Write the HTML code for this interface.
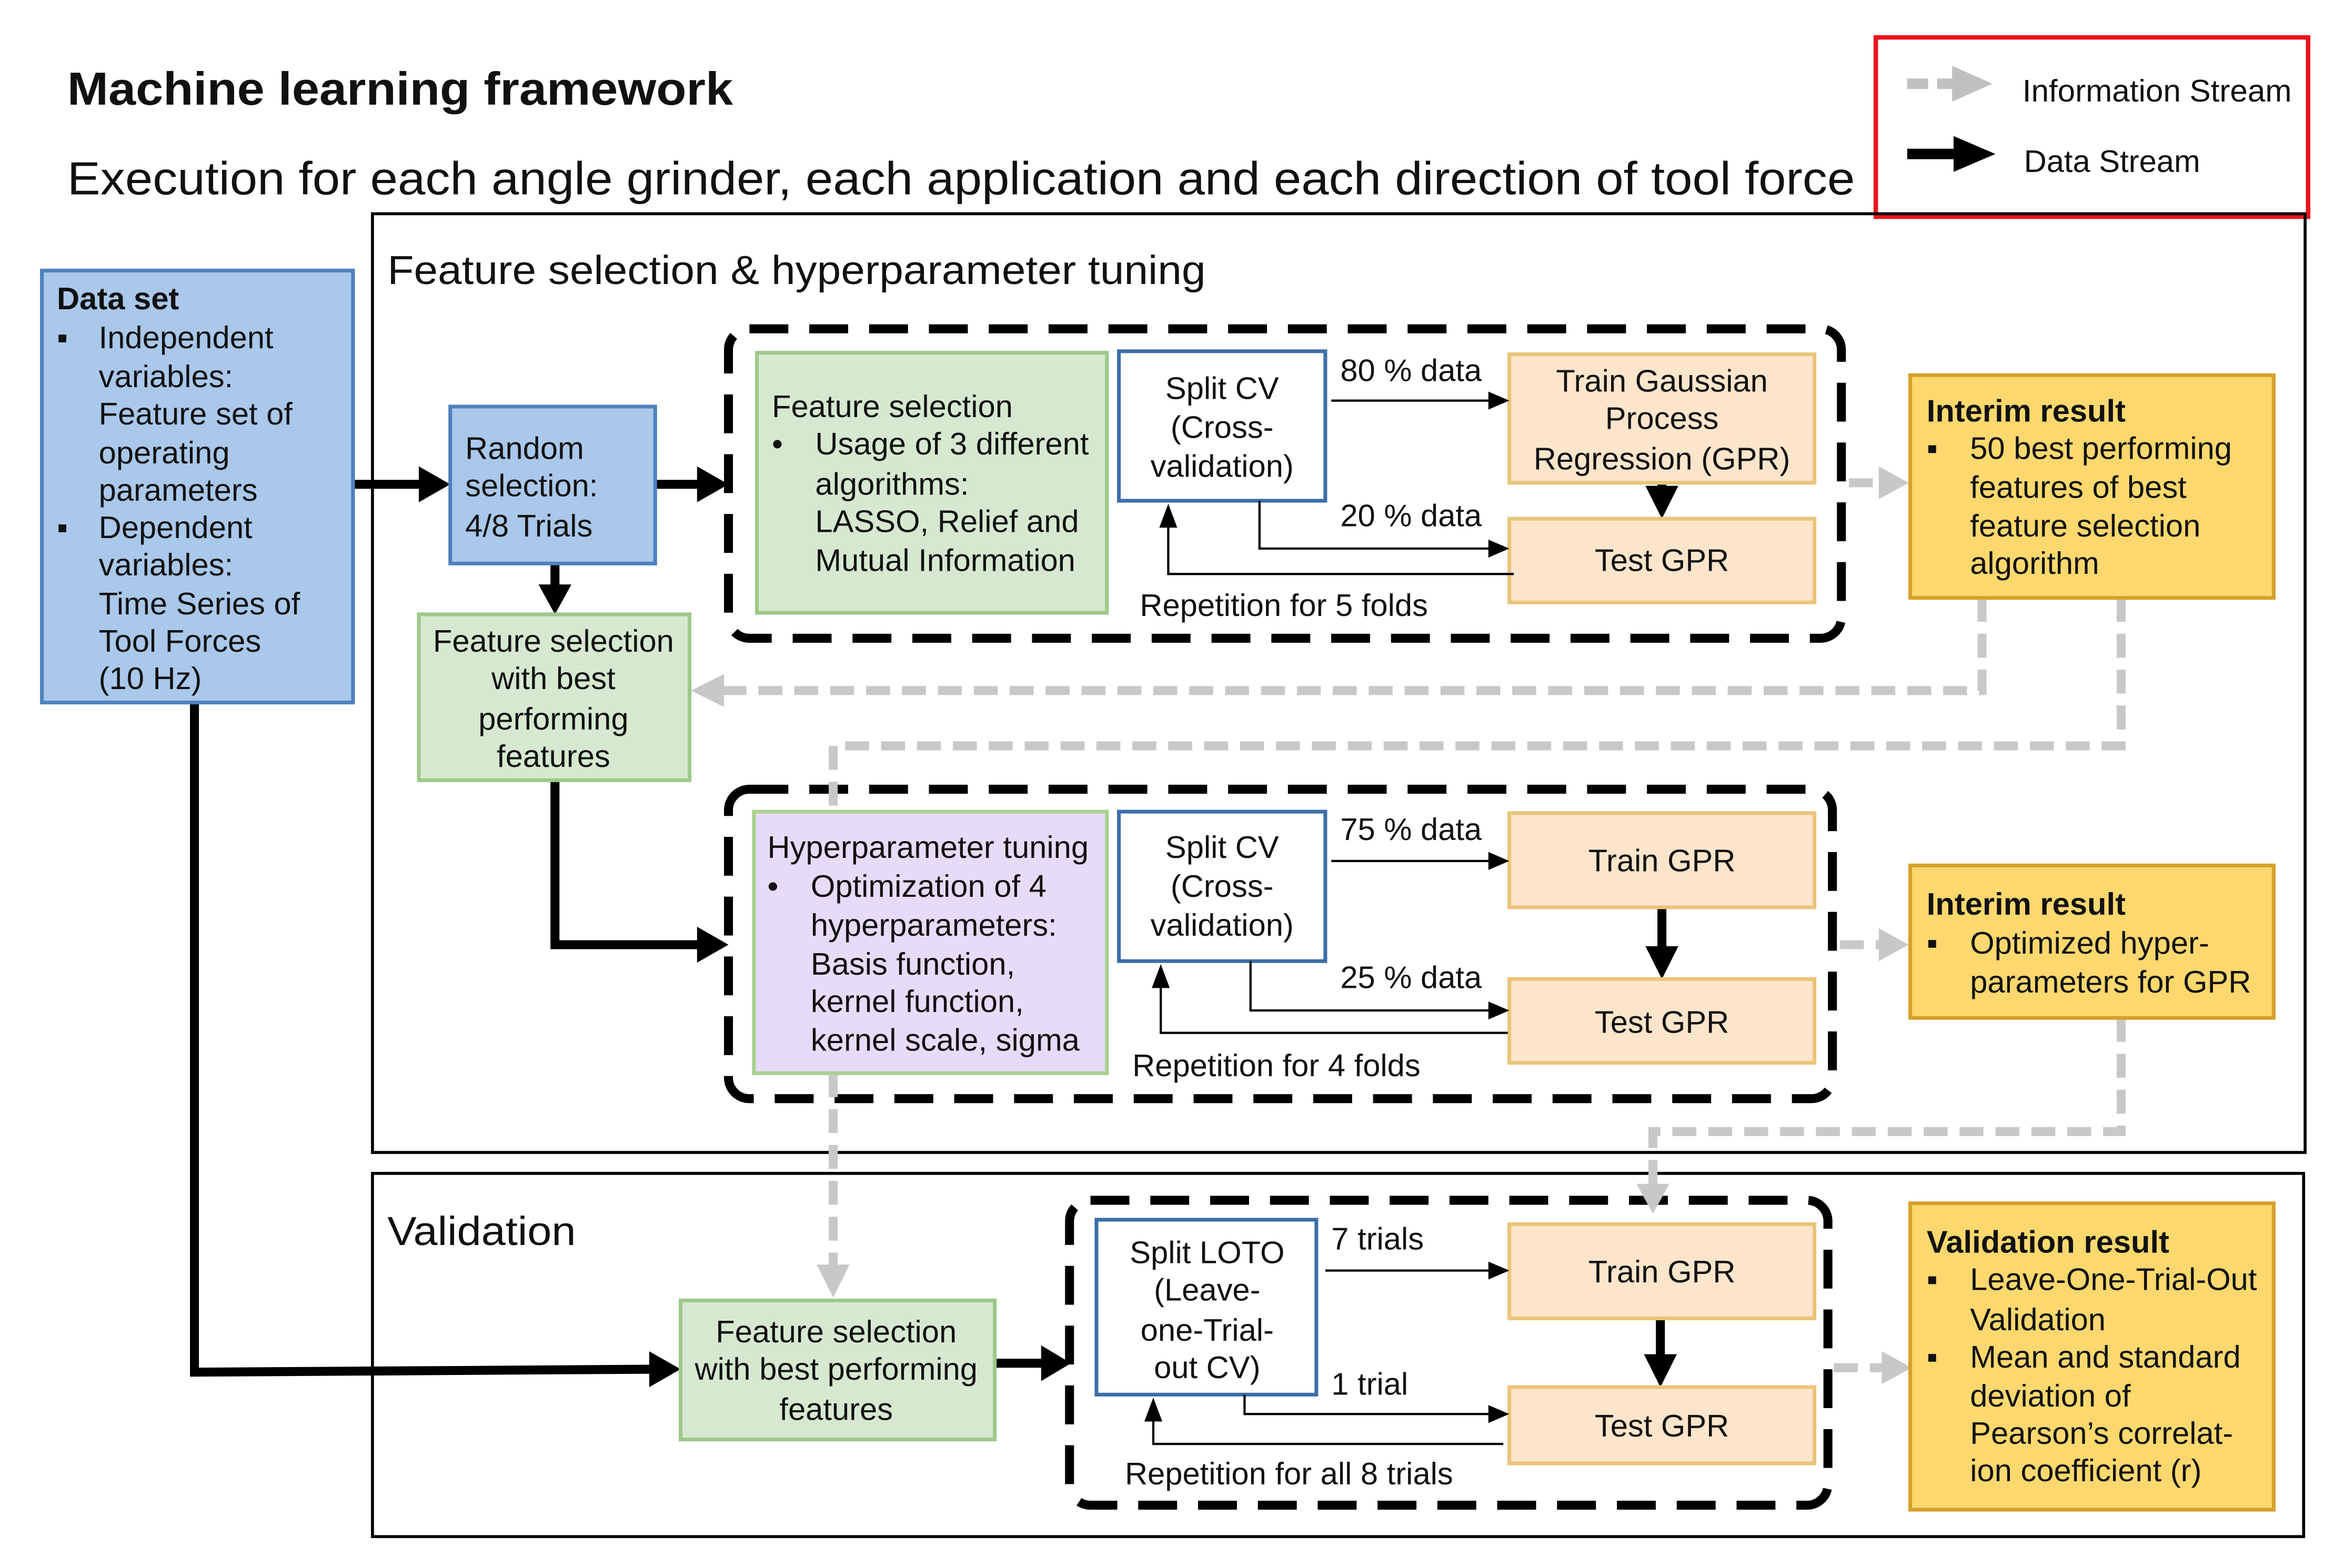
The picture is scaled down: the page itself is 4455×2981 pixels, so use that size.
<!DOCTYPE html>
<html><head><meta charset="utf-8"><style>
html,body{margin:0;padding:0;background:#fff}
svg{display:block}
text{font-family:"Liberation Sans",Arial,sans-serif;fill:#111;font-size:21px}
.b{font-weight:bold}
</style></head><body>
<svg width="4455" height="2981" viewBox="0 0 1567 1049" preserveAspectRatio="none" xmlns="http://www.w3.org/2000/svg">

<text x="45" y="70" class="b" style="font-size:31px" textLength="445" lengthAdjust="spacingAndGlyphs">Machine learning framework</text>
<text x="45" y="130" style="font-size:31px" textLength="1195" lengthAdjust="spacingAndGlyphs">Execution for each angle grinder, each application and each direction of tool force</text>

<!-- legend -->
<rect x="1254" y="25" width="289" height="120" fill="none" stroke="#e8141c" stroke-width="3"/>
<line x1="1275" y1="56" x2="1305" y2="56" stroke="#c0c0c0" stroke-width="7" stroke-dasharray="14,6"/>
<path d="M1305,44 L1332,56 L1305,68 Z" fill="#c0c0c0"/>
<line x1="1275" y1="103" x2="1310" y2="103" stroke="#000" stroke-width="7"/>
<path d="M1306,91 L1334,103 L1306,115 Z" fill="#000"/>
<text x="1352" y="68" textLength="180" lengthAdjust="spacingAndGlyphs">Information Stream</text>
<text x="1353" y="115">Data Stream</text>

<!-- outer boxes -->
<rect x="249" y="143" width="1292" height="628" fill="none" stroke="#000" stroke-width="2"/>
<text x="259" y="190" style="font-size:27px" textLength="547" lengthAdjust="spacingAndGlyphs">Feature selection &amp; hyperparameter tuning</text>
<rect x="249" y="785" width="1291" height="243" fill="none" stroke="#000" stroke-width="2"/>
<text x="259" y="833" style="font-size:27px" textLength="126" lengthAdjust="spacingAndGlyphs">Validation</text>

<!-- dashed boxes -->
<rect x="487" y="220" width="744" height="207" rx="14" fill="none" stroke="#000" stroke-width="6" stroke-dasharray="26,14"/>
<rect x="487" y="528" width="738" height="207" rx="14" fill="none" stroke="#000" stroke-width="6" stroke-dasharray="26,14"/>
<rect x="715" y="803" width="507" height="204" rx="14" fill="none" stroke="#000" stroke-width="6" stroke-dasharray="26,14"/>

<!-- gray info streams -->
<g stroke="#c8c8c8" stroke-width="6" fill="none" stroke-dasharray="16,8">
<polyline points="1325,400 1325,462 478,462"/>
<polyline points="1418,400 1418,499 557,499 557,545"/>
<line x1="557" y1="718" x2="557" y2="850"/>
<polyline points="1418,681 1418,757 1105,757 1105,795"/>
<line x1="1236" y1="323" x2="1258" y2="323"/>
<line x1="1230" y1="632" x2="1258" y2="632"/>
<line x1="1226" y1="915" x2="1260" y2="915"/>
</g>
<g fill="#c8c8c8">
<path d="M462,462 L484,451 L484,473 Z"/>
<path d="M557,868 L546,846 L568,846 Z"/>
<path d="M1105,812 L1094,792 L1116,792 Z"/>
<path d="M1276,323 L1256,312 L1256,334 Z"/>
<path d="M1276,632 L1256,621 L1256,643 Z"/>
<path d="M1278,915 L1258,904 L1258,926 Z"/>
</g>

<!-- thick black data arrows -->
<g stroke="#000" stroke-width="6" fill="none">
<line x1="236" y1="324" x2="284" y2="324"/>
<line x1="438" y1="324" x2="470" y2="324"/>
<line x1="371" y1="377" x2="371" y2="395"/>
<polyline points="371,522 371,632 470,632"/>
<polyline points="130,470 130,918 438,916"/>
<line x1="665" y1="912" x2="700" y2="912"/>
<line x1="1111" y1="323" x2="1111" y2="330"/>
<line x1="1111" y1="607" x2="1111" y2="635"/>
<line x1="1110" y1="882" x2="1110" y2="908"/>
</g>
<g fill="#000">
<path d="M301,324 L280,312 L280,336 Z"/>
<path d="M487,324 L466,312 L466,336 Z"/>
<path d="M371,411 L360,391 L382,391 Z"/>
<path d="M487,632 L466,620 L466,644 Z"/>
<path d="M455,916 L434,904 L434,928 Z"/>
<path d="M716,912 L696,900 L696,924 Z"/>
<path d="M1111,347 L1100,325 L1122,325 Z"/>
<path d="M1111,655 L1100,633 L1122,633 Z"/>
<path d="M1110,928 L1099,906 L1121,906 Z"/>
</g>

<!-- Data set -->
<rect x="28" y="181" width="208" height="289" fill="#a9c8ea" stroke="#4f81bd" stroke-width="2.5"/>
<text x="38" y="207" class="b">Data set</text>
<text x="38" y="233">▪</text><text x="66" y="233">Independent</text>
<text x="66" y="259">variables:</text>
<text x="66" y="284">Feature set of</text>
<text x="66" y="310">operating</text>
<text x="66" y="335">parameters</text>
<text x="38" y="360">▪</text><text x="66" y="360">Dependent</text>
<text x="66" y="385">variables:</text>
<text x="66" y="411">Time Series of</text>
<text x="66" y="436">Tool Forces</text>
<text x="66" y="461">(10 Hz)</text>

<!-- Random selection -->
<rect x="301" y="272" width="137" height="105" fill="#a9c8ea" stroke="#4f81bd" stroke-width="2.5"/>
<text x="311" y="307">Random</text>
<text x="311" y="332">selection:</text>
<text x="311" y="359">4/8 Trials</text>

<!-- Feature selection best -->
<rect x="280" y="411" width="181" height="111" fill="#d6e9d0" stroke="#9dc98a" stroke-width="2.5"/>
<g text-anchor="middle">
<text x="370" y="436">Feature selection</text>
<text x="370" y="461">with best</text>
<text x="370" y="488">performing</text>
<text x="370" y="513">features</text>
</g>

<!-- Section 1 contents -->
<rect x="506" y="236" width="234" height="174" fill="#d6e9d0" stroke="#9dc98a" stroke-width="2.5"/>
<text x="516" y="279">Feature selection</text>
<text x="516" y="304">•</text><text x="545" y="304">Usage of 3 different</text>
<text x="545" y="331">algorithms:</text>
<text x="545" y="356">LASSO, Relief and</text>
<text x="545" y="382">Mutual Information</text>

<rect x="748" y="235" width="138" height="100" fill="#fff" stroke="#3d6ea8" stroke-width="2.5"/>
<g text-anchor="middle">
<text x="817" y="267">Split CV</text>
<text x="817" y="293">(Cross-</text>
<text x="817" y="319">validation)</text>
</g>
<rect x="1009" y="237" width="204" height="86" fill="#fde5cb" stroke="#eac47a" stroke-width="2.5"/>
<g text-anchor="middle">
<text x="1111" y="262">Train Gaussian</text>
<text x="1111" y="287">Process</text>
<text x="1111" y="314">Regression (GPR)</text>
</g>
<rect x="1009" y="347" width="204" height="56" fill="#fde5cb" stroke="#eac47a" stroke-width="2.5"/>
<text x="1111" y="382" text-anchor="middle">Test GPR</text>

<g stroke="#000" stroke-width="1.5" fill="none">
<line x1="890" y1="268" x2="998" y2="268"/>
<polyline points="842,335 842,367 998,367"/>
<polyline points="1012,384 781,384 781,350"/>
</g>
<g fill="#000">
<path d="M1009,268 L995,262 L995,274 Z"/>
<path d="M1009,367 L995,361 L995,373 Z"/>
<path d="M781,337 L775,353 L787,353 Z"/>
</g>
<text x="896" y="255">80 % data</text>
<text x="896" y="352">20 % data</text>
<text x="762" y="412">Repetition for 5 folds</text>

<rect x="1277" y="251" width="243" height="149" fill="#fcd86e" stroke="#d6a12a" stroke-width="2.5"/>
<text x="1288" y="282" class="b">Interim result</text>
<text x="1288" y="307">▪</text><text x="1317" y="307">50 best performing</text>
<text x="1317" y="333">features of best</text>
<text x="1317" y="359">feature selection</text>
<text x="1317" y="384">algorithm</text>

<!-- Section 2 contents -->
<rect x="504" y="543" width="236" height="175" fill="#e6dcfa" stroke="#a9d18e" stroke-width="2.5"/>
<text x="513" y="574">Hyperparameter tuning</text>
<text x="513" y="600">•</text><text x="542" y="600">Optimization of 4</text>
<text x="542" y="626">hyperparameters:</text>
<text x="542" y="652">Basis function,</text>
<text x="542" y="677">kernel function,</text>
<text x="542" y="703">kernel scale, sigma</text>

<rect x="748" y="543" width="138" height="100" fill="#fff" stroke="#3d6ea8" stroke-width="2.5"/>
<g text-anchor="middle">
<text x="817" y="574">Split CV</text>
<text x="817" y="600">(Cross-</text>
<text x="817" y="626">validation)</text>
</g>
<rect x="1009" y="544" width="204" height="63" fill="#fde5cb" stroke="#eac47a" stroke-width="2.5"/>
<text x="1111" y="583" text-anchor="middle">Train GPR</text>
<rect x="1009" y="655" width="204" height="56" fill="#fde5cb" stroke="#eac47a" stroke-width="2.5"/>
<text x="1111" y="691" text-anchor="middle">Test GPR</text>
<g stroke="#000" stroke-width="1.5" fill="none">
<line x1="890" y1="576" x2="998" y2="576"/>
<polyline points="836,643 836,676 998,676"/>
<polyline points="1008,691 776,691 776,658"/>
</g>
<g fill="#000">
<path d="M1009,576 L995,570 L995,582 Z"/>
<path d="M1009,676 L995,670 L995,682 Z"/>
<path d="M776,645 L770,661 L782,661 Z"/>
</g>
<text x="896" y="562">75 % data</text>
<text x="896" y="661">25 % data</text>
<text x="757" y="720">Repetition for 4 folds</text>

<rect x="1277" y="579" width="243" height="102" fill="#fcd86e" stroke="#d6a12a" stroke-width="2.5"/>
<text x="1288" y="612" class="b">Interim result</text>
<text x="1288" y="638">▪</text><text x="1317" y="638">Optimized  hyper-</text>
<text x="1317" y="664">parameters for GPR</text>

<!-- Validation contents -->
<rect x="455" y="870" width="210" height="93" fill="#d6e9d0" stroke="#9dc98a" stroke-width="2.5"/>
<g text-anchor="middle">
<text x="559" y="898">Feature selection</text>
<text x="559" y="923">with best performing</text>
<text x="559" y="950">features</text>
</g>
<rect x="733" y="816" width="147" height="117" fill="#fff" stroke="#3d6ea8" stroke-width="2.5"/>
<g text-anchor="middle">
<text x="807" y="845">Split LOTO</text>
<text x="807" y="870">(Leave-</text>
<text x="807" y="897">one-Trial-</text>
<text x="807" y="922">out CV)</text>
</g>
<rect x="1009" y="819" width="204" height="63" fill="#fde5cb" stroke="#eac47a" stroke-width="2.5"/>
<text x="1111" y="858" text-anchor="middle">Train GPR</text>
<rect x="1009" y="928" width="204" height="51" fill="#fde5cb" stroke="#eac47a" stroke-width="2.5"/>
<text x="1111" y="961" text-anchor="middle">Test GPR</text>
<g stroke="#000" stroke-width="1.5" fill="none">
<line x1="886" y1="850" x2="998" y2="850"/>
<polyline points="832,933 832,946 998,946"/>
<polyline points="1005,966 771,966 771,948"/>
</g>
<g fill="#000">
<path d="M1009,850 L995,844 L995,856 Z"/>
<path d="M1009,946 L995,940 L995,952 Z"/>
<path d="M771,935 L765,951 L777,951 Z"/>
</g>
<text x="890" y="836">7 trials</text>
<text x="890" y="933">1 trial</text>
<text x="752" y="993">Repetition for all 8 trials</text>

<rect x="1277" y="805" width="243" height="205" fill="#fcd86e" stroke="#d6a12a" stroke-width="2.5"/>
<text x="1288" y="838" class="b">Validation result</text>
<text x="1288" y="863">▪</text><text x="1317" y="863">Leave-One-Trial-Out</text>
<text x="1317" y="890">Validation</text>
<text x="1288" y="915">▪</text><text x="1317" y="915">Mean and standard</text>
<text x="1317" y="941">deviation of</text>
<text x="1317" y="966">Pearson’s correlat-</text>
<text x="1317" y="991">ion coefficient (r)</text>
</svg>
</body></html>
